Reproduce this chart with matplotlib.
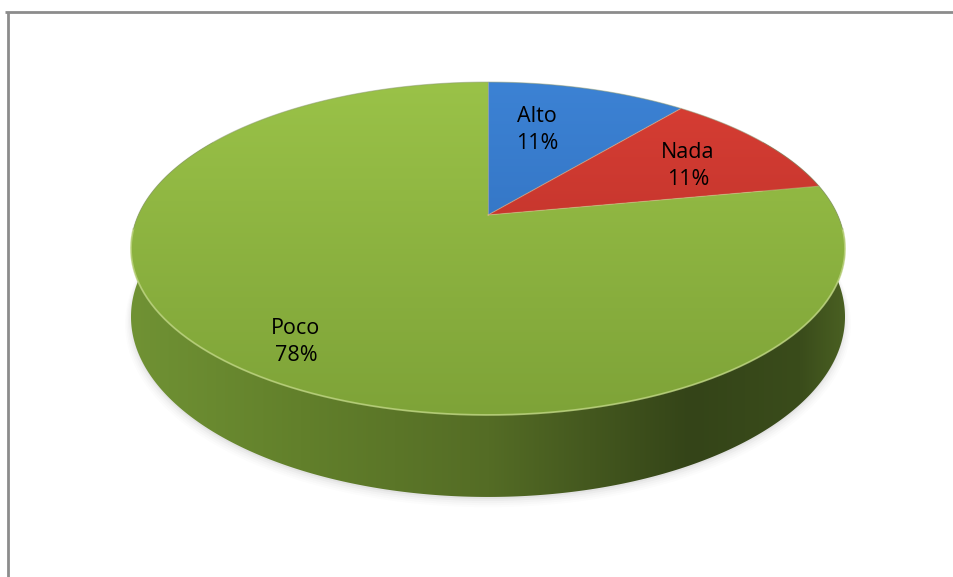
import numpy as np
import matplotlib
matplotlib.use("Agg")
import matplotlib.pyplot as plt
from matplotlib.patches import Polygon

# ---- data ----
categories = ["Alto", "Nada", "Poco"]
values = [11, 11, 78]  # percent

# ---- style ----
top_colors = {
    "Alto": ((60, 130, 212), (44, 104, 180)),
    "Nada": ((216, 62, 52), (176, 44, 38)),
    "Poco": ((154, 194, 72), (126, 163, 56)),
}
label_pos = [(537, 130), (688, 166), (296, 342)]

W, H = 954, 577
fig = plt.figure(figsize=(W / 100, H / 100), dpi=100)
ax = fig.add_axes([0, 0, 1, 1])
ax.set_xlim(0, W)
ax.set_ylim(H, 0)
ax.axis("off")

# perspective geometry of the pie (pixel space)
cx, cy = 488.0, 215.0
k = 0.2013
A, B = 349.7, 159.7
D = 65.5


def proj(theta, r=1.0, depth=0.0):
    u = r * np.sin(theta)
    v = -r * np.cos(theta)
    w = 1 - k * v
    return cx + A * u / w, cy + B * v / w + depth * D / w


def grad_image(c_top, c_bot, y0, y1, stops=None):
    if stops is not None:
        xs = np.arange(W)
        px, cols = zip(*stops)
        cols = np.array(cols, float)
        row = np.stack([np.interp(xs, px, cols[:, i]) for i in range(3)], -1)
        img = np.repeat(row[None, :, :], H, axis=0)
    else:
        ys = np.arange(H)
        t = np.clip((ys - y0) / (y1 - y0), 0, 1)[:, None]
        col = np.array(c_top)[None, :] * (1 - t) + np.array(c_bot)[None, :] * t
        img = np.repeat(col[:, None, :], W, axis=1)
    return img / 255.0


def fill_clipped(xy, img, z):
    poly = Polygon(xy, closed=True, facecolor="none", edgecolor="none")
    ax.add_patch(poly)
    im = ax.imshow(img, extent=(0, W, H, 0), origin="upper", zorder=z,
                   interpolation="bilinear", aspect="auto")
    im.set_clip_path(poly)


# soft shadow
for i, a in enumerate(np.linspace(0.05, 0.01, 5)):
    t = np.linspace(0, 2 * np.pi, 300)
    sx, sy = proj(t, 1.0 + 0.004 * i, 1.0)
    ax.fill(sx, sy + 2 + i, color=(0.3, 0.3, 0.3), alpha=a, zorder=1, lw=0)

# side of cylinder
ts = np.linspace(np.radians(60), np.radians(300), 400)
tx, ty = proj(ts)
bx, by = proj(ts[::-1], 1.0, 1.0)
side_xy = np.column_stack([np.concatenate([tx, bx]), np.concatenate([ty, by])])
side_img = grad_image(None, None, 0, 1, stops=[
    (0, (112, 146, 52)), (131, (112, 146, 52)), (300, (98, 128, 43)),
    (488, (84, 108, 37)), (690, (52, 68, 24)), (800, (58, 76, 27)),
    (845, (74, 96, 34)), (W, (74, 96, 34))])
fill_clipped(side_xy, side_img, 2)

# top face wedges (start at 12 o'clock, clockwise)
total = float(sum(values))
start = 0.0
edges = []
for cat, val in zip(categories, values):
    span = 2 * np.pi * val / total
    tt = np.linspace(start, start + span, max(int(val * 6), 20))
    px, py = proj(tt)
    xy = np.column_stack([np.concatenate([[cx], px]), np.concatenate([[cy], py])])
    c0, c1 = top_colors[cat]
    fill_clipped(xy, grad_image(c0, c1, 82, 415), 3)
    edges.append(start)
    start += span

# wedge separators
for e in edges:
    ex, ey = proj(e)
    ax.plot([cx, ex], [cy, ey], color=(0.85, 0.75, 0.55), lw=0.8, alpha=0.5, zorder=4)

# rim highlight on the front, thin gray rim on the back
tf = np.linspace(np.radians(95), np.radians(265), 300)
fx, fy = proj(tf)
ax.plot(fx, fy, color=(0.74, 0.83, 0.50), lw=1.3, alpha=0.8, zorder=5)
tb2 = np.linspace(np.radians(265), np.radians(455), 400)
gx, gy = proj(tb2)
ax.plot(gx, gy, color=(0.55, 0.6, 0.45), lw=0.8, alpha=0.5, zorder=5)

# labels
for (lx, ly), cat, val in zip(label_pos, categories, values):
    ax.text(lx, ly, f"{cat}\n{val}%", ha="center", va="center", fontsize=15.5,
            family=["Open Sans", "DejaVu Sans"], color="black",
            linespacing=1.4, zorder=6)

# frame lines
ax.plot([5, W], [12, 12], color="#8c8c8c", lw=2, zorder=7, solid_capstyle="butt")
ax.plot([8, 8], [12, H], color="#8c8c8c", lw=2, zorder=7, solid_capstyle="butt")

fig.savefig("out.png", dpi=100)
